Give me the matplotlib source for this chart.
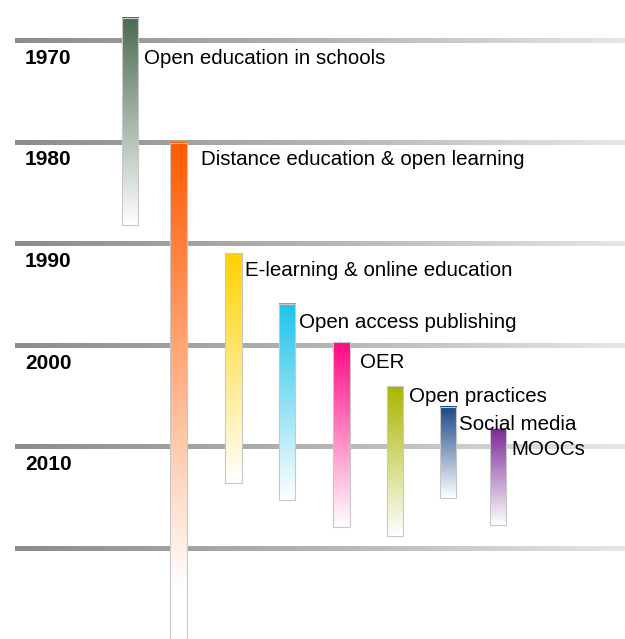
import numpy as np
import matplotlib.pyplot as plt
from matplotlib.colors import LinearSegmentedColormap

# Data
decades = [1970, 1980, 1990, 2000, 2010, 2020]
decade_labels = ['1970', '1980', '1990', '2000', '2010']
names = ['Open education in schools', 'Distance education & open learning',
         'E-learning & online education', 'Open access publishing', 'OER',
         'Open practices', 'Social media', 'MOOCs']
start = [1967.7, 1980.0, 1990.9, 1995.9, 1999.6, 2004.0, 2006.0, 2008.1]
end = [1988.1, 2031.0, 2013.5, 2015.2, 2017.8, 2018.7, 2015.0, 2017.6]
label_year = [1971.7, 1981.7, 1992.6, 1997.7, 2001.6, 2005.0, 2007.7, 2010.2]
colors = ['#4b6b52', '#ff5a00', '#ffd200', '#1ec3ea', '#ff0a84',
          '#a9b500', '#1b4689', '#7b2896']

# layout (pixel units on x)
bar_x = [130, 178.5, 233.5, 287, 341.5, 395, 448, 498]
label_dx = [6, 14, 3, 4, 10, 6, 3, 5]
bar_w = 16.5
px_per_year = 10.16
y_top = 1970 - 41 / px_per_year
y_bot = 1970 + (639 - 41) / px_per_year

plt.rcParams['font.family'] = ['Liberation Sans', 'DejaVu Sans']
fig = plt.figure(figsize=(6.25, 6.39), dpi=100)
ax = fig.add_axes([0, 0, 1, 1])
ax.axis('off')

# decade lines with fading grey
line_cmap = LinearSegmentedColormap.from_list('grey', ['#8c8c8c', '#b4b4b4', '#e6e6e6'])
grad = np.linspace(0, 1, 300).reshape(1, -1)
for d in decades:
    ax.imshow(grad, cmap=line_cmap, aspect='auto', origin='upper',
              extent=(15, 625, d + 0.2, d - 0.2), zorder=1)
for d, lab in zip(decades, decade_labels):
    ax.text(25, d + 1.7, lab, fontsize=15, fontweight='bold', va='center', ha='left')

# bars fading to white
for i in range(len(names)):
    cmap = LinearSegmentedColormap.from_list('c%d' % i, [colors[i], '#ffffff'])
    x0 = bar_x[i] - bar_w / 2
    x1 = bar_x[i] + bar_w / 2
    yy = np.linspace(start[i], end[i], 256)
    fade_len = min(end[i] - start[i], 44)   # long bar fades out before its end
    vgrad = np.clip((yy - start[i]) / fade_len, 0, 1).reshape(-1, 1)
    ax.imshow(vgrad, cmap=cmap, aspect='auto', origin='upper',
              extent=(x0, x1, end[i], start[i]), zorder=3)
    ax.add_patch(plt.Rectangle((x0, start[i]), bar_w, end[i] - start[i],
                               fill=False, ec='#c8c8c8', lw=0.8, zorder=4))
    ax.text(x1 + label_dx[i], label_year[i], names[i], fontsize=14.8, va='center',
            ha='left', zorder=5)

ax.set_xlim(0, 625)
ax.set_ylim(y_bot, y_top)
fig.savefig('out.png', dpi=100)
